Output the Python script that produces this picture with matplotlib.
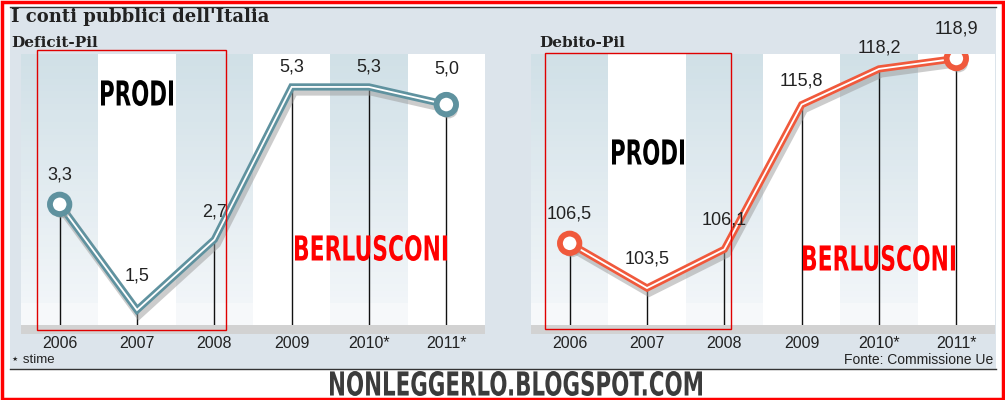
import numpy as np
import matplotlib
matplotlib.use("Agg")
import matplotlib.pyplot as plt
import matplotlib.patheffects as pe
from matplotlib.patches import Rectangle, PathPatch
from matplotlib.textpath import TextPath
from matplotlib.font_manager import FontProperties
from matplotlib.transforms import Affine2D

# dati
anni = ["2006", "2007", "2008", "2009", "2010*", "2011*"]
deficit = [3.3, 1.5, 2.7, 5.3, 5.3, 5.0]
debito = [106.5, 103.5, 106.1, 115.8, 118.2, 118.9]
deficit_lab = ["3,3", "1,5", "2,7", "5,3", "5,3", "5,0"]
debito_lab = ["106,5", "103,5", "106,1", "115,8", "118,2", "118,9"]

W, H = 1005, 400
fig = plt.figure(figsize=(W / 100, H / 100), dpi=100)
fig.patch.set_facecolor("white")

SANS = ["Liberation Sans", "DejaVu Sans"]


def fx(x):
    return x / W


def fy(y):
    return 1 - y / H


def rect_px(x0, y0, x1, y1, **kw):
    fig.add_artist(Rectangle((fx(x0), fy(y1)), fx(x1) - fx(x0), fy(y0) - fy(y1),
                             transform=fig.transFigure, **kw))


def stencil(testo, x0, y0, x1, y1, col):
    # testo compresso dentro un riquadro (pixel), tipo font stencil
    tp = TextPath((0, 0), testo, size=10,
                  prop=FontProperties(family="DejaVu Sans", weight="bold"))
    bb = tp.get_extents()
    tr = (Affine2D().translate(-bb.x0, -bb.y0)
          .scale((x1 - x0) / bb.width / W, (y1 - y0) / bb.height / H)
          .translate(fx(x0), fy(y1)))
    p = tr.transform_path(tp)
    fig.add_artist(PathPatch(p, facecolor=col, edgecolor="none",
                             transform=fig.transFigure, zorder=9))


# bordo rosso e pannello
rect_px(10, 7, 996, 369, facecolor="#dce4eb", edgecolor="none", zorder=0)
fig.add_artist(plt.Line2D([fx(10), fx(996)], [fy(7), fy(7)], color="#333333", lw=1))
fig.add_artist(plt.Line2D([fx(10), fx(996)], [fy(369), fy(369)], color="#333333", lw=1))
rect_px(1.5, 1.5, 1003, 398.5, facecolor="none", edgecolor="#ff0000", lw=2.5, zorder=10)

fig.text(fx(11), fy(17), "I conti pubblici dell'Italia", family="DejaVu Serif",
         weight="bold", fontsize=13, color="#222222", va="center", ha="left")
fig.text(fx(11), fy(43), "Deficit-Pil", family="DejaVu Serif", weight="bold",
         fontsize=11, color="#222222", va="center", ha="left")
fig.text(fx(539), fy(43), "Debito-Pil", family="DejaVu Serif", weight="bold",
         fontsize=11, color="#222222", va="center", ha="left")


def grafico(x0, x1, vals, labs, offs, col, ylim):
    ax = fig.add_axes([fx(x0), fy(325), fx(x1) - fx(x0), fy(54) - fy(325)])
    ax.set_xlim(-0.5, len(vals) - 0.5)
    ax.set_ylim(*ylim)
    ax.axis("off")
    ax.add_patch(Rectangle((0, 0), 1, 1, transform=ax.transAxes,
                           facecolor="white", edgecolor="none", zorder=0))
    # colonne sfumate
    tr = ax.get_xaxis_transform()
    top = np.array([0xcf, 0xdf, 0xe6]) / 255
    bot = np.array([0xf1, 0xf5, 0xf8]) / 255
    cut = (325 - 303) / (325 - 54)
    n = 40
    for i in range(0, len(vals), 2):
        for k in range(n):
            t = k / n
            c = bot + (top - bot) * t
            ax.add_patch(Rectangle((i - 0.5, cut + (1 - cut) * t), 1, (1 - cut) / n + 0.002,
                                   transform=tr, facecolor=c, edgecolor="none", zorder=1))
        ax.add_patch(Rectangle((i - 0.5, 0), 1, cut, transform=tr,
                               facecolor="#f6f8fa", edgecolor="none", zorder=1))
    x = np.arange(len(vals))
    ax.vlines(x, ylim[0], vals, color="#111111", lw=1, zorder=2)
    ax.plot(x, vals, color=col, lw=5.2, solid_joinstyle="miter", zorder=4,
            path_effects=[pe.SimpleLineShadow(offset=(1.5, -3), shadow_color="#9a9a9a",
                                              alpha=0.5, linewidth=6.5), pe.Normal()])
    ax.plot(x, vals, color="white", lw=1.3, solid_joinstyle="miter", zorder=5)
    ends = [0, len(vals) - 1]
    ax.plot(x[ends], np.array(vals)[ends], "o", ms=14, mfc="white", mec=col, mew=4.2,
            zorder=6, path_effects=[pe.SimplePatchShadow(offset=(1.5, -3), shadow_rgbFace="#9a9a9a",
                                                         alpha=0.5), pe.Normal()])
    for xi, v, lab, o in zip(x, vals, labs, offs):
        ax.annotate(lab, (xi, v), xytext=(0, o), textcoords="offset pixels",
                    ha="center", va="bottom", fontsize=13, family=SANS, color="#222222",
                    zorder=7)
    return ax


ax1 = grafico(21, 485, deficit, deficit_lab, [21, 26, 19, 11, 11, 27], "#5f929f", (1.2445, 5.861))
ax2 = grafico(531, 995, debito, debito_lab, [21, 21, 21, 15, 12, 21], "#f0593c", (101.02, 119.2))

# fascia grigia e anni
for (a, b), ax in [((21, 485), ax1), ((531, 995), ax2)]:
    rect_px(a, 325, b, 334, facecolor="#d2d2d2", edgecolor="none", zorder=1)
    for i, lab in enumerate(anni):
        xp = a + (b - a) * (i + 0.5) / len(anni)
        fig.text(fx(xp), fy(344), lab, ha="center", va="center", fontsize=11.5,
                 family=SANS, color="#222222")

# riquadri rossi
rect_px(37, 50, 226, 330, facecolor="none", edgecolor="#e00000", lw=1, zorder=8)
rect_px(545, 53, 731, 329, facecolor="none", edgecolor="#e00000", lw=1, zorder=8)

# scritte
stencil("PRODI", 101, 80, 173, 106, "black")
stencil("PRODI", 612, 139, 684, 165, "black")
stencil("BERLUSCONI", 295, 235, 447, 261, "#ff0000")
stencil("BERLUSCONI", 803, 245, 955, 271, "#ff0000")
stencil("NONLEGGERLO.BLOGSPOT.COM", 330, 371, 702, 396, "#3c3c3c")

fig.text(fx(11), fy(360), "\u22c6 stime", ha="left", va="center", fontsize=9.5,
         family=SANS, color="#222222")
fig.text(fx(993), fy(360), "Fonte: Commissione Ue", ha="right", va="center",
         fontsize=10, family=SANS, color="#222222")

fig.savefig("out.png", dpi=100, facecolor="white")
